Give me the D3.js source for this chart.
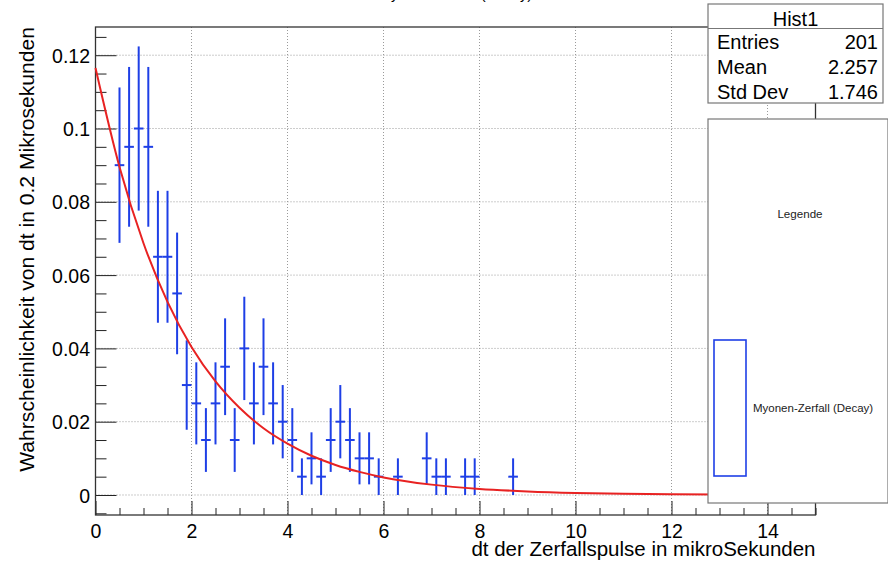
<!DOCTYPE html>
<html>
<head>
<meta charset="utf-8">
<script src="https://cdn.jsdelivr.net/npm/d3@7"></script>
<style>
  html, body { margin: 0; padding: 0; background: #fff; }
  svg { display: block; font-family: "Liberation Sans", Arial, Helvetica, sans-serif; }
</style>
</head>
<body>
<svg id="chart" width="888" height="561"></svg>
<script>
// ---- data ----
const binCenters = [0.5, 0.7, 0.9, 1.1, 1.3, 1.5, 1.7, 1.9, 2.1, 2.3, 2.5, 2.7, 2.9, 3.1, 3.3, 3.5, 3.7, 3.9,
                    4.1, 4.3, 4.5, 4.7, 4.9, 5.1, 5.3, 5.5, 5.7, 5.9, 6.3, 6.9, 7.1, 7.3, 7.7, 7.9, 8.7];
const binValues  = [0.09, 0.095, 0.1, 0.095, 0.065, 0.065, 0.055, 0.03, 0.025, 0.015, 0.025, 0.035, 0.015, 0.04,
                    0.025, 0.035, 0.025, 0.02, 0.015, 0.005, 0.01, 0.005, 0.015, 0.02, 0.015, 0.01, 0.01, 0.005,
                    0.005, 0.01, 0.005, 0.005, 0.005, 0.005, 0.005];
const binErrors  = [0.0212, 0.0218, 0.0224, 0.0218, 0.018, 0.018, 0.0166, 0.0122, 0.0112, 0.0087, 0.0112, 0.0132,
                    0.0087, 0.0141, 0.0112, 0.0132, 0.0112, 0.01, 0.0087, 0.005, 0.0071, 0.005, 0.0087, 0.01,
                    0.0087, 0.0071, 0.0071, 0.005, 0.005, 0.0071, 0.005, 0.005, 0.005, 0.005, 0.005];
const binWidth = 0.2;

// fitted decay curve
const fitT      = [0, 0.5, 1, 1.5, 2, 2.5, 3, 3.5, 4, 4.5, 5, 5.5, 6, 7, 8, 9, 10, 11, 12, 13, 14, 15];
const fitValues = [0.1165, 0.0895, 0.0687, 0.0527, 0.0404, 0.031, 0.0238, 0.0182, 0.014, 0.0107, 0.0082, 0.0063,
                   0.0048, 0.00283, 0.00166, 0.00098, 0.00057, 0.00034, 0.0002, 0.00012, 0.00007, 0.00004];

const xTicks = [0, 2, 4, 6, 8, 10, 12, 14];
const yTicks = [0, 0.02, 0.04, 0.06, 0.08, 0.1, 0.12];

const chartTitle = "Myonen-Zerfall (Decay)";
const xTitle = "dt der Zerfallspulse in mikroSekunden";
const yTitle = "Wahrscheinlichkeit von dt in 0.2 Mikrosekunden";
const statsTitle = "Hist1";
const statsLabels = ["Entries", "Mean", "Std Dev"];
const statsValues = ["201", "2.257", "1.746"];
const legendHeader = "Legende";
const legendEntry = "Myonen-Zerfall (Decay)";

// ---- layout ----
const svg = d3.select("#chart");
const L = 95.5, R = 815.5, T = 27, B = 515;
const x = d3.scaleLinear().domain([0, 15]).range([L, R]);
const y = d3.scaleLinear().domain([-0.00546, 0.1277]).range([B, T]);
const FONT = "Liberation Sans, Arial, sans-serif";

svg.append("rect").attr("width", 888).attr("height", 561).attr("fill", "#fff");

// title (mostly above the visible area, only descenders show)
svg.append("text").attr("x", (L + R) / 2).attr("y", -1.5)
  .attr("text-anchor", "middle").attr("font-size", 14.7).attr("fill", "#000").text(chartTitle);

// grid
const grid = svg.append("g").attr("stroke", "#9a9a9a").attr("stroke-width", 1).attr("stroke-dasharray", "1,2");
xTicks.filter(t => t > 0).forEach(t => {
  grid.append("line").attr("x1", x(t)).attr("x2", x(t)).attr("y1", T).attr("y2", B);
});
yTicks.forEach(t => {
  grid.append("line").attr("x1", L).attr("x2", R).attr("y1", y(t)).attr("y2", y(t));
});

// axes with ROOT-like inward ticks
const xAxis = d3.axisBottom(x).tickValues(xTicks).tickFormat(d3.format("d")).tickSize(-14);
const gx = svg.append("g").attr("transform", `translate(0,${B})`).call(xAxis);
gx.select(".domain").remove();
gx.selectAll("line").attr("stroke", "#222");
gx.selectAll("text").attr("y", 22.5).attr("dy", null).attr("font-size", 19.5)
  .attr("fill", "#000").attr("font-family", FONT);
const xMinor = d3.range(0, 15.01, 0.5).filter(v => Math.abs(v / 2 - Math.round(v / 2)) > 1e-6);
const xMinorAxis = d3.axisBottom(x).tickValues(xMinor).tickFormat("").tickSize(-7);
const gxm = svg.append("g").attr("transform", `translate(0,${B})`).call(xMinorAxis);
gxm.select(".domain").remove();
gxm.selectAll("line").attr("stroke", "#222");

const yAxis = d3.axisLeft(y).tickValues(yTicks).tickFormat(d => d === 0 ? "0" : String(+d.toFixed(2))).tickSize(-21);
const gy = svg.append("g").attr("transform", `translate(${L},0)`).call(yAxis);
gy.select(".domain").remove();
gy.selectAll("line").attr("stroke", "#222");
gy.selectAll("text").attr("x", -5.5).attr("dy", "0.36em").attr("font-size", 19.5)
  .attr("fill", "#000").attr("font-family", FONT);
const yMinor = d3.range(-0.005, 0.1251, 0.005).filter(v => Math.abs(v / 0.02 - Math.round(v / 0.02)) > 1e-6);
const yMinorAxis = d3.axisLeft(y).tickValues(yMinor).tickFormat("").tickSize(-11);
const gym = svg.append("g").attr("transform", `translate(${L},0)`).call(yMinorAxis);
gym.select(".domain").remove();
gym.selectAll("line").attr("stroke", "#222");

// frame
svg.append("rect").attr("x", L).attr("y", T).attr("width", R - L).attr("height", B - T)
  .attr("fill", "none").attr("stroke", "#333").attr("stroke-width", 1.3);

// axis titles
svg.append("text").attr("x", R).attr("y", 556).attr("text-anchor", "end")
  .attr("font-size", 20.5).attr("fill", "#000").text(xTitle);
svg.append("text").attr("transform", `translate(34,${T}) rotate(-90)`).attr("text-anchor", "end")
  .attr("font-size", 21.1).attr("fill", "#000").text(yTitle);

// data: error bars
const blue = "#1e3fe6";
const pts = svg.append("g").attr("stroke", blue).attr("stroke-width", 2);
binCenters.forEach((c, i) => {
  const v = binValues[i], e = binErrors[i];
  pts.append("line").attr("x1", x(c)).attr("x2", x(c)).attr("y1", y(v - e)).attr("y2", y(v + e));
  pts.append("line").attr("x1", x(c - binWidth / 2)).attr("x2", x(c + binWidth / 2)).attr("y1", y(v)).attr("y2", y(v));
});

// fit curve
const line = d3.line().x((d, i) => x(fitT[i])).y(d => y(d)).curve(d3.curveMonotoneX);
svg.append("path").attr("d", line(fitValues)).attr("fill", "none").attr("stroke", "#e82222").attr("stroke-width", 2);

// stats box
const sb = svg.append("g");
sb.append("rect").attr("x", 708).attr("y", 4).attr("width", 175).attr("height", 99)
  .attr("fill", "#fff").attr("stroke", "#777").attr("stroke-width", 1.2);
sb.append("line").attr("x1", 708).attr("x2", 883).attr("y1", 28.5).attr("y2", 28.5).attr("stroke", "#777").attr("stroke-width", 1.2);
sb.append("text").attr("x", 795.5).attr("y", 25.5).attr("text-anchor", "middle").attr("font-size", 20).text(statsTitle);
statsLabels.forEach((lab, i) => {
  const yy = 48.5 + i * 25;
  sb.append("text").attr("x", 717).attr("y", yy).attr("font-size", 20).text(lab);
  sb.append("text").attr("x", 878).attr("y", yy).attr("text-anchor", "end").attr("font-size", 20).text(statsValues[i]);
});

// legend box
const lg = svg.append("g");
lg.append("rect").attr("x", 708).attr("y", 119).attr("width", 180).attr("height", 384)
  .attr("fill", "#fff").attr("stroke", "#777").attr("stroke-width", 1.2);
lg.append("text").attr("x", 800).attr("y", 218).attr("text-anchor", "middle").attr("font-size", 11.6).attr("fill", "#222").text(legendHeader);
lg.append("rect").attr("x", 714).attr("y", 340).attr("width", 32).attr("height", 136)
  .attr("fill", "none").attr("stroke", blue).attr("stroke-width", 1.6);
lg.append("text").attr("x", 753).attr("y", 412).attr("font-size", 11.5).attr("fill", "#222").text(legendEntry);
</script>
</body>
</html>
